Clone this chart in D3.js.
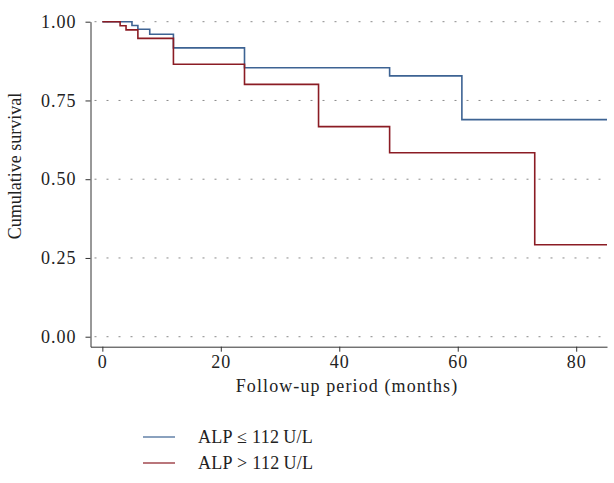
<!DOCTYPE html>
<html>
<head>
<meta charset="utf-8">
<script src="https://cdn.jsdelivr.net/npm/d3@7"></script>
<style>
 body { margin: 0; background: #fff; }
 text { font-family: "Liberation Serif", "Times New Roman", serif; fill: #222; }
</style>
</head>
<body>
<svg width="614" height="483"></svg>
<script>
// Kaplan-Meier estimates.

var groups = ['ALP \u2264 112\u2009U/L', 'ALP > 112\u2009U/L'];
var lowTimes = [0, 5, 6, 8, 12, 24, 48.5, 60.7, 85.2];
var lowSurv = [1, 0.988, 0.976, 0.960, 0.917, 0.854, 0.828, 0.689, 0.689];
var highTimes = [0, 3, 4, 6, 12, 24, 36.5, 48.5, 73, 85.2];
var highSurv = [1, 0.987, 0.974, 0.947, 0.865, 0.801, 0.667, 0.584, 0.292, 0.292];
var xTicks = [0, 20, 40, 60, 80];
var yTicks = [0, 0.25, 0.5, 0.75, 1];

var svg = d3.select('svg');
var fontSize = 18;

// Scales: the axes start a little before 0 months and below 0.00.

var x = d3.scaleLinear().domain([-2, 85.2]).range([90.5, 607]);
var y = d3.scaleLinear().domain([-0.0317, 1]).range([346.7, 21.7]);

var colors = ['#3d6393', '#8b1c24'];

// Dotted gridlines.

svg.append('g')
 .selectAll('line')
 .data(yTicks)
 .enter().append('line')
 .attr('x1', x.range()[0] + 4)
 .attr('x2', x.range()[1])
 .attr('y1', function(d) { return y(d); })
 .attr('y2', function(d) { return y(d); })
 .attr('stroke', '#8a8a8a')
 .attr('stroke-width', 1)
 .attr('stroke-dasharray', '2,10');

// Axes.

var yAxis = svg.append('g')
 .attr('transform', 'translate(' + x.range()[0] + ',0)')
 .call(d3.axisLeft(y)
 .tickValues(yTicks)
 .tickFormat(d3.format('.2f'))
 .tickSize(5)
 .tickSizeOuter(0)
 .tickPadding(9));

var xAxis = svg.append('g')
 .attr('transform', 'translate(0,' + y.range()[0] + ')')
 .call(d3.axisBottom(x)
 .tickValues(xTicks)
 .tickSize(5)
 .tickSizeOuter(0)
 .tickPadding(4));

[yAxis, xAxis].forEach(function(a) {
 a.selectAll('path, line').attr('stroke', '#333');
 a.selectAll('text')
 .style('font-size', fontSize + 'px')
 .style('letter-spacing', '1px')
 .attr('fill', '#222');
});

// Axis titles.

svg.append('text')
 .attr('x', 347)
 .attr('y', 392)
 .attr('text-anchor', 'middle')
 .style('font-size', fontSize + 'px')
 .style('letter-spacing', '1.1px')
 .text('Follow-up period (months)');

svg.append('text')
 .attr('transform', 'translate(21,166) rotate(-90)')
 .attr('text-anchor', 'middle')
 .style('font-size', fontSize + 'px')
 .text('Cumulative survival');

// Survival curves.

var line = d3.line()
 .curve(d3.curveStepAfter)
 .x(function(d) { return x(d[0]); })
 .y(function(d) { return y(d[1]); });

var curves = [d3.zip(lowTimes, lowSurv), d3.zip(highTimes, highSurv)];

svg.append('g')
 .selectAll('path')
 .data(curves)
 .enter().append('path')
 .attr('d', line)
 .attr('fill', 'none')
 .attr('stroke', function(d, i) { return colors[i]; })
 .attr('stroke-width', 1.6);

// Legend.

var legend = svg.append('g')
 .selectAll('g')
 .data(groups)
 .enter().append('g')
 .attr('transform', function(d, i) { return 'translate(143,' + (437 + i * 26) + ')'; });

legend.append('line')
 .attr('x1', 0)
 .attr('x2', 32)
 .attr('stroke', function(d, i) { return colors[i]; })
 .attr('stroke-width', 1.2);

legend.append('text')
 .attr('x', 55)
 .attr('dy', '0.35em')
 .style('font-size', fontSize + 'px')
 .style('letter-spacing', '0.3px')
 .text(function(d) { return d; });
</script>
</body>
</html>
